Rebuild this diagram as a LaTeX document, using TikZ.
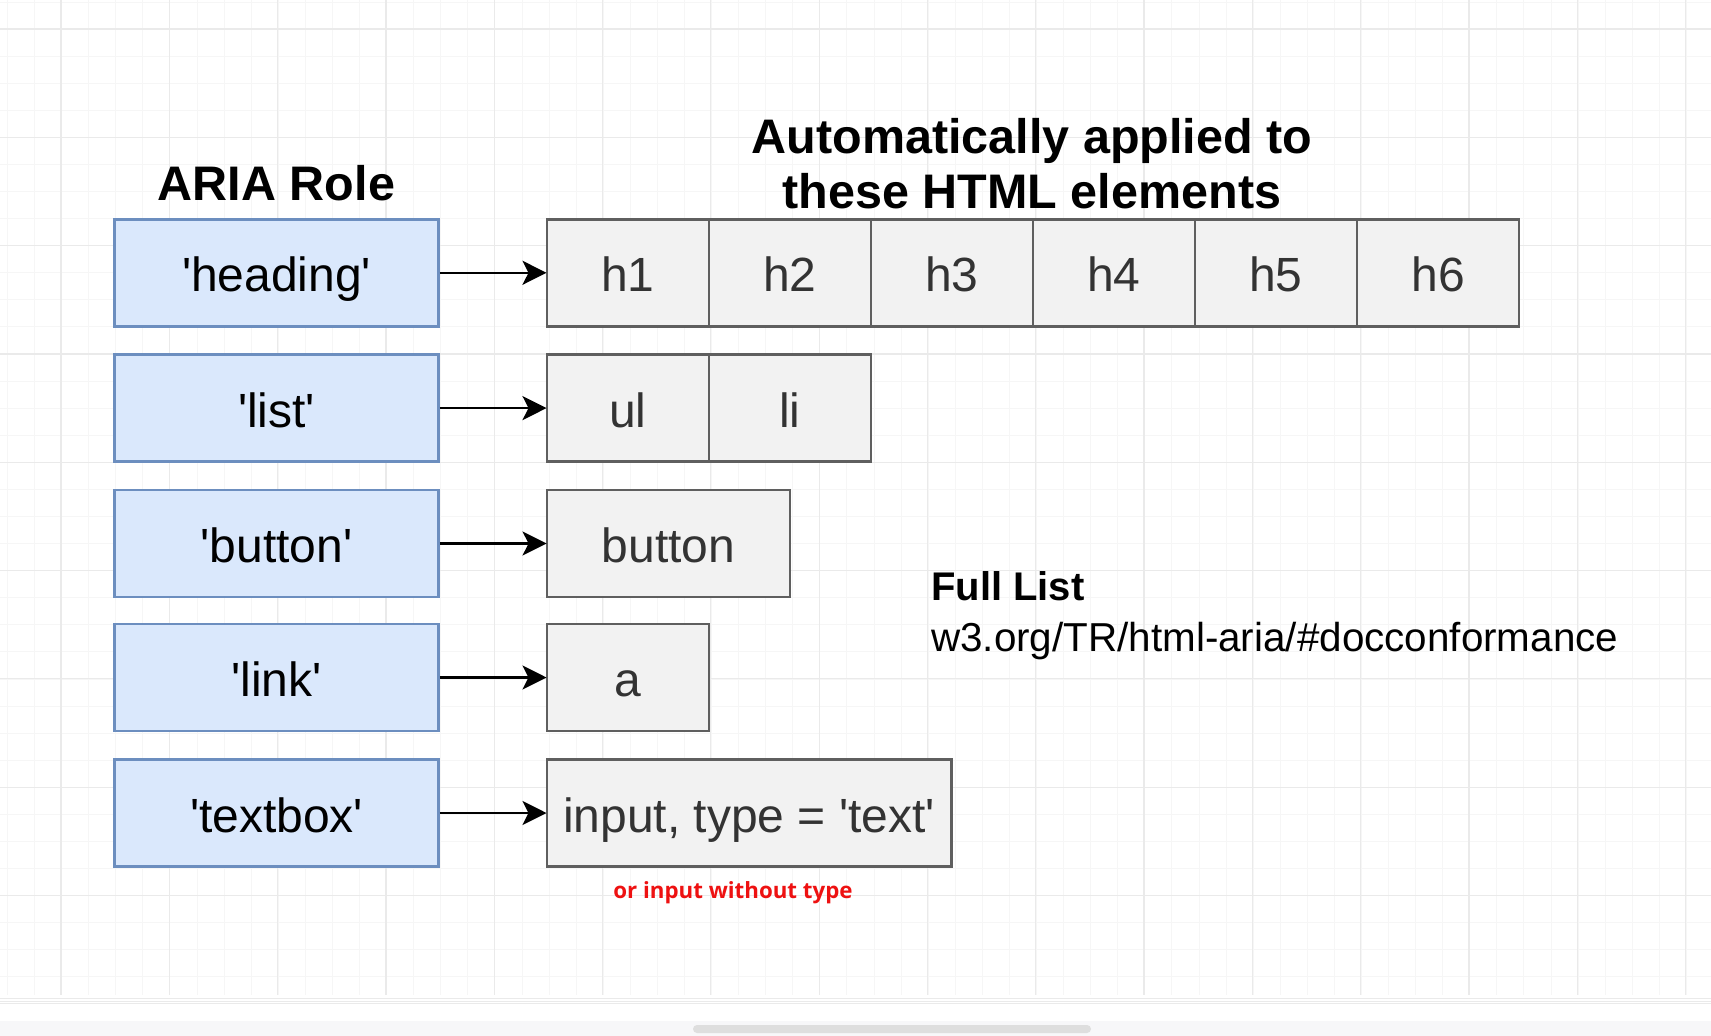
\documentclass[tikz,border=0pt]{standalone}
\usepackage{fontspec}
\setmainfont{Liberation Sans}[Ligatures=TeXOff]
\newfontfamily\redfont{Open Sans}
\usetikzlibrary{arrows.meta}
\definecolor{rolefill}{HTML}{DAE8FC}
\definecolor{roleline}{HTML}{6C8EBF}
\definecolor{elfill}{HTML}{F2F2F2}
\definecolor{elline}{HTML}{5F5F5F}
\definecolor{eltext}{HTML}{333333}
\definecolor{gridminor}{HTML}{F6F6F6}
\definecolor{gridmajor}{HTML}{EAEAEA}
\definecolor{redtext}{HTML}{EE1111}
\definecolor{barbg}{HTML}{F7F7F9}
\definecolor{thumb}{HTML}{DEDEDE}
\tikzset{
  rolebox/.style={draw=roleline, fill=rolefill, line width=2.4pt, minimum width=324pt, minimum height=107pt, inner sep=0pt, font=\fontsize{48}{52}\selectfont, text height=38pt, text depth=0pt},
  elbox/.style={draw=elline, fill=elfill, line width=2.4pt, minimum height=107pt, inner sep=0pt, text=eltext, font=\fontsize{48}{52}\selectfont, text height=38pt, text depth=0pt},
  conn/.style={line width=2.4pt, -{Stealth[length=24pt,width=24pt,inset=6pt]}, shorten >=-1pt},
  heading/.style={font=\bfseries\fontsize{48.5}{55}\selectfont, anchor=base},
}
\begin{document}
\begin{tikzpicture}[x=1pt,y=-1pt]
\useasboundingbox (0,0) rectangle (1711,1036);
\fill[white] (0,0) rectangle (1711,1036);
% grid
\foreach \i in {0,...,63} {
  \draw[gridminor, line width=1pt] ({7.5+27.08*\i},0) -- ({7.5+27.08*\i},995);
}
\foreach \i in {0,...,36} {
  \draw[gridminor, line width=1pt] (0,{2+27.08*\i}) -- (1711,{2+27.08*\i});
}
\foreach \i in {0,...,15} {
  \draw[gridmajor, line width=1.2pt] ({61+108.3*\i},0) -- ({61+108.3*\i},995);
}
\foreach \i in {0,...,9} {
  \draw[gridmajor, line width=1.2pt] (0,{29+108.3*\i}) -- (1711,{29+108.3*\i});
}
% bottom bar
\draw[gridmajor, line width=1pt] (0,998) -- (1711,998);
\draw[gridmajor, line width=1pt] (0,1001) -- (1711,1001);
\fill[barbg] (0,1021) rectangle (1711,1036);
\fill[thumb, rounded corners=4pt] (693,1025) rectangle (1091,1033);

% headings
\node[heading] (arialabel) at (276.5,200) {ARIA Role};
\node[heading] (autol1) at (1032,153) {Automatically applied to};
\node[heading] (autol2) at (1032,208) {these HTML elements};

% role boxes
\node[rolebox] (r1) at (276.6,272.8) {'heading'};
\node[rolebox] (r2) at (276.6,408.1) {'list'};
\node[rolebox] (r3) at (276.6,543.5) {'button'};
\node[rolebox] (r4) at (276.6,677.5) {'link'};
\node[rolebox] (r5) at (276.6,813.0) {'textbox'};

% element boxes
\node[elbox, minimum width=162pt] (h1) at (627.7,272.8) {h1};
\node[elbox, minimum width=162pt] (h2) at (789.8,272.8) {h2};
\node[elbox, minimum width=162pt] (h3) at (951.8,272.8) {h3};
\node[elbox, minimum width=162pt] (h4) at (1113.9,272.8) {h4};
\node[elbox, minimum width=162pt] (h5) at (1275.9,272.8) {h5};
\node[elbox, minimum width=162pt] (h6) at (1438.0,272.8) {h6};
\node[elbox, minimum width=162pt] (ul) at (627.7,408.1) {ul};
\node[elbox, minimum width=162pt] (li) at (789.8,408.1) {li};
\node[elbox, minimum width=243.3pt] (btn) at (668.4,543.5) {button};
\node[elbox, minimum width=162pt] (anode) at (627.7,677.5) {a};
\node[elbox, minimum width=404.8pt] (inp) at (749.1,813.0) {input, type = 'text'};

% connectors
\draw[conn] (r1.east) -- (h1.west);
\draw[conn] (r2.east) -- (ul.west);
\draw[conn] (r3.east) -- (btn.west);
\draw[conn] (r4.east) -- (anode.west);
\draw[conn] (r5.east) -- (inp.west);

% notes
\node[anchor=base west, font=\bfseries\fontsize{40}{44}\selectfont, inner sep=0pt] (full) at (931,600.7) {Full List};
\node[anchor=base west, font=\fontsize{40.4}{44}\selectfont, inner sep=0pt] (url) at (931,651.7) {w3.org/TR/html-aria/\#docconformance};
\node[anchor=base, font=\redfont\bfseries\fontsize{22.3}{24}\selectfont, text=redtext, inner sep=0pt] (note) at (733,898) {or input without type};
\end{tikzpicture}
\end{document}
